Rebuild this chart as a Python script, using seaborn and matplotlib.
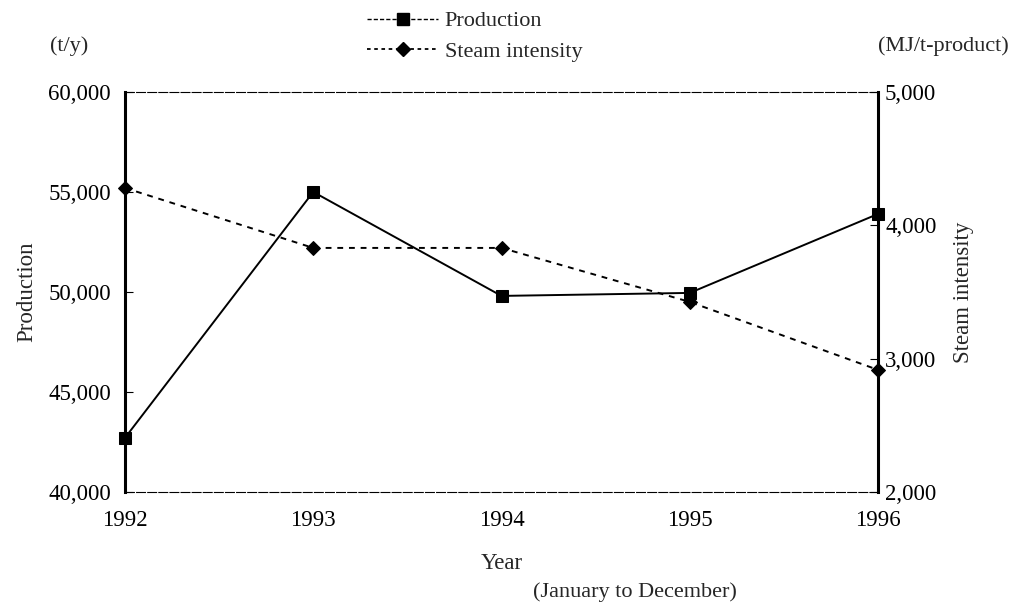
import matplotlib
matplotlib.use("Agg")
import matplotlib.pyplot as plt
import seaborn as sns
import pandas as pd
from matplotlib.lines import Line2D
from matplotlib.ticker import FuncFormatter

years = [1992, 1993, 1994, 1995, 1996]
production = [42700, 55000, 49800, 49950, 53900]
steam_intensity = [4280, 3830, 3830, 3425, 2915]
left_ticks = [40000, 45000, 50000, 55000, 60000]
right_ticks = [2000, 3000, 4000, 5000]

sns.set_theme(style="white")
plt.rcParams['font.family'] = ['Liberation Serif', 'DejaVu Serif']

df = pd.DataFrame({"Year": years, "Production": production, "Steam": steam_intensity})

fig = plt.figure(figsize=(10.21, 6.05), dpi=100)
ax = fig.add_axes([0.1224, 0.187, 0.7376, 0.661])
ax2 = ax.twinx()

sns.lineplot(data=df, x="Year", y="Production", ax=ax, color="black", lw=1.4,
             marker="s", markersize=8, markeredgecolor="black", legend=False,
             clip_on=False, zorder=5)
sns.lineplot(data=df, x="Year", y="Steam", ax=ax2, color="black", lw=1.4,
             linestyle=(0, (3, 3)), marker="D", markersize=7,
             markeredgecolor="black", legend=False, clip_on=False, zorder=5)

ax.set_xlim(1992, 1996)
ax.set_ylim(40000, 60000)
ax2.set_ylim(2000, 5000)
ax.set_xticks(years)
ax.set_yticks(left_ticks)
ax2.set_yticks(right_ticks)
fmt = FuncFormatter(lambda v, p: f"{int(v):,}")
ax.yaxis.set_major_formatter(fmt)
ax2.yaxis.set_major_formatter(fmt)

for a in (ax, ax2):
    a.tick_params(direction="in", length=6, width=0.8, colors="black", labelsize=16.5)
    for s in a.spines.values():
        s.set_color("black")
        s.set_linewidth(0.8)
ax.spines["left"].set_linewidth(2.2)
ax2.spines["right"].set_linewidth(2.2)
ax.spines["top"].set_linestyle((0, (8, 2)))
ax.spines["bottom"].set_linestyle((0, (8, 2)))
ax2.spines["top"].set_visible(False)
ax2.spines["bottom"].set_visible(False)
ax.tick_params(axis="x", pad=13)
ax.tick_params(axis="y", pad=10)
ax2.tick_params(axis="y", pad=5)

ax.set_xlabel("Year", fontsize=16.5, labelpad=16)
ax.set_ylabel("Production", fontsize=16.5, labelpad=8)
ax2.set_ylabel("Steam intensity", fontsize=16.5, labelpad=12)

fig.text(0.622, 0.005, "(January to December)", ha="center", va="bottom", fontsize=16)
fig.text(0.049, 0.924, "(t/y)", ha="left", va="center", fontsize=16)
fig.text(0.988, 0.924, "(MJ/t-product)", ha="right", va="center", fontsize=16)

handles = [
    Line2D([], [], color="black", lw=1.0, linestyle=(0, (3, 1.5)), marker="s", markersize=8),
    Line2D([], [], color="black", lw=1.3, linestyle=(0, (2, 2)), marker="D", markersize=7),
]
fig.legend(handles, ["Production", "Steam intensity"], loc="center",
           bbox_to_anchor=(0.465, 0.94), frameon=False, fontsize=16,
           handlelength=3.2, handletextpad=0.3, labelspacing=0.45)

fig.savefig("out.png", dpi=100)
